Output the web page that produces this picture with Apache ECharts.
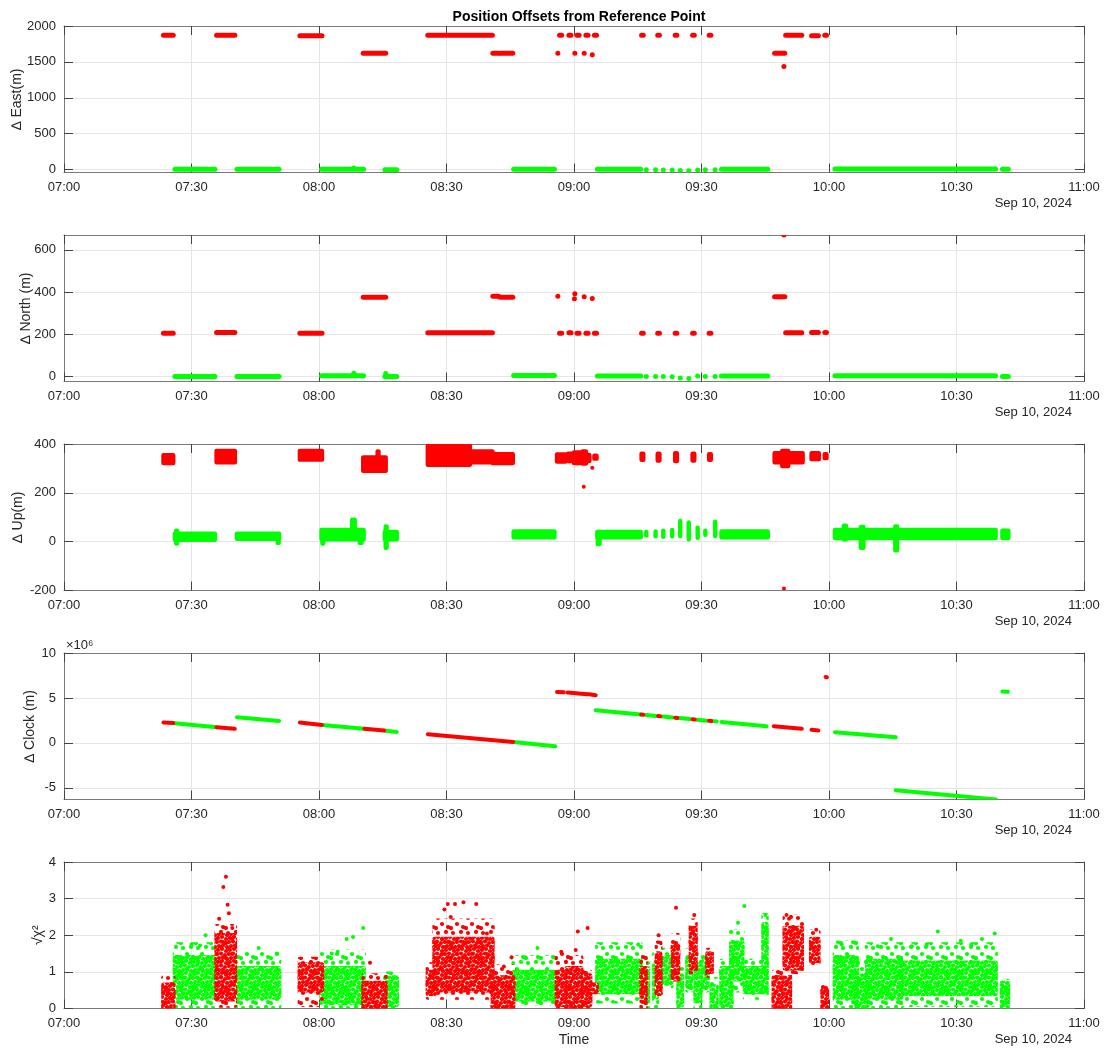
<!DOCTYPE html>
<html>
<head>
<meta charset="utf-8">
<script src="https://cdn.jsdelivr.net/npm/echarts@6/dist/echarts.min.js"></script>
<style>
  html, body { margin: 0; padding: 0; background: #fff; }
  #chart { width: 1104px; height: 1049px; }
</style>
</head>
<body>
<div id="chart"></div>
<script>
// all times are minutes after 07:00, Sep 10 2024
const timeTicks = [0, 30, 60, 90, 120, 150, 180, 210, 240];

// East offset: [start, end, value] (a dot when start == end)
const eastGood = [
  [26.1, 35.5, 5], [40.7, 50.6, 5], [60.6, 70.5, 5], [68.2, 68.2, 22], [75.5, 78.3, 0],
  [105.8, 115.4, 5], [125.5, 135.7, 5], [137.0, 137.0, 0], [139.2, 139.2, -2],
  [141.0, 141.0, -5], [143.1, 143.1, -5], [145.0, 145.0, -12], [147.0, 147.0, -15],
  [149.1, 149.1, -5], [150.9, 150.9, 0], [153.2, 153.2, 0], [154.7, 165.6, 5],
  [181.4, 219.2, 8], [220.8, 222.2, 5]
];
const eastBad = [
  [23.4, 25.7, 1870], [35.9, 40.2, 1870], [55.5, 60.7, 1865], [70.4, 75.7, 1620],
  [85.6, 100.8, 1870], [100.9, 102.2, 1620], [102.6, 105.6, 1620],
  [116.2, 116.2, 1620], [116.6, 117.1, 1870], [118.8, 119.3, 1870], [120.7, 121.2, 1870],
  [122.8, 123.3, 1870], [124.8, 125.3, 1870], [120.2, 120.2, 1620], [122.4, 122.4, 1620],
  [124.3, 124.3, 1600], [135.9, 136.3, 1870], [139.7, 140.1, 1870], [143.8, 144.2, 1870],
  [147.9, 148.3, 1870], [151.8, 152.2, 1870], [167.2, 169.6, 1620], [169.4, 169.4, 1435],
  [169.8, 173.6, 1870], [175.9, 177.5, 1865], [179.0, 179.4, 1870]
];

// North offset: [start, end, value]
const northGood = [
  [26.1, 35.5, 0], [40.7, 50.6, 0], [60.6, 70.5, 3], [68.2, 68.2, 15], [75.5, 78.3, 0],
  [75.7, 75.7, 14], [105.8, 115.4, 5], [125.5, 135.7, 2], [137.0, 137.0, 0],
  [139.2, 139.2, 0], [141.0, 141.0, 0], [143.1, 143.1, -2], [145.0, 145.0, -8],
  [147.0, 147.0, -10], [149.1, 149.1, 2], [150.9, 150.9, 0], [153.2, 153.2, 0],
  [154.7, 165.6, 2], [181.4, 219.2, 3], [220.8, 222.2, 0]
];
const northBad = [
  [23.4, 25.7, 205], [35.9, 40.2, 208], [55.5, 60.7, 205], [70.4, 75.7, 375],
  [85.6, 100.8, 207], [100.9, 102.2, 380], [102.6, 105.6, 375],
  [116.2, 116.2, 380], [116.6, 117.1, 205], [118.8, 119.3, 207], [120.7, 121.2, 205],
  [122.8, 123.3, 205], [124.8, 125.3, 205], [120.2, 120.2, 392], [120.1, 120.1, 368],
  [122.4, 122.4, 378], [124.3, 124.3, 369], [135.9, 136.3, 205], [139.7, 140.1, 205],
  [143.8, 144.2, 205], [147.9, 148.3, 205], [151.8, 152.2, 205], [167.2, 169.6, 378],
  [169.4, 169.4, 670], [169.8, 173.6, 207], [175.9, 177.5, 208], [179.0, 179.4, 208]
];

// Up offset: [start, end, low, high]
const upGood = [
  [26.1, 35.5, 8, 33], [26.4, 26.6, -8, 45], [40.7, 50.6, 12, 33], [50.3, 50.5, -5, 30],
  [60.6, 70.5, 10, 48], [60.8, 61.0, -8, 30], [67.8, 68.4, 20, 90], [69.6, 70.0, -5, 40],
  [75.5, 78.3, 10, 40], [75.7, 75.9, -25, 62], [105.8, 115.4, 18, 42],
  [125.5, 135.7, 18, 40], [125.6, 126.0, -10, 40], [137.0, 137.0, 25, 40],
  [139.2, 139.2, 22, 42], [141.0, 141.0, 20, 45], [143.1, 143.1, 22, 48],
  [145.0, 145.0, 23, 85], [147.0, 147.0, 10, 79], [149.1, 149.1, 16, 57],
  [150.9, 150.9, 28, 45], [153.2, 153.2, 23, 82], [154.7, 165.6, 18, 42],
  [181.4, 219.2, 15, 48], [183.5, 184.0, 10, 65], [187.5, 188.1, -25, 60],
  [195.6, 196.0, -35, 62], [220.8, 222.2, 15, 45]
];
const upBad = [
  [23.4, 25.7, 322, 354], [35.9, 40.2, 325, 372], [55.5, 60.7, 336, 372],
  [70.4, 75.7, 290, 345], [73.8, 74.0, 300, 370], [85.6, 95.5, 315, 392],
  [95.5, 100.8, 325, 370], [100.9, 105.6, 322, 358], [116.0, 118.0, 328, 357],
  [118.6, 119.4, 330, 360], [120.0, 121.4, 322, 365], [122.0, 122.8, 320, 370],
  [123.0, 123.6, 330, 355], [124.8, 125.3, 340, 352], [135.9, 136.3, 335, 360],
  [139.7, 140.1, 332, 360], [143.8, 144.2, 330, 362], [147.9, 148.3, 332, 360],
  [151.8, 152.2, 335, 358], [167.2, 173.8, 325, 362], [169.0, 170.4, 310, 372],
  [175.9, 177.6, 338, 362], [179.0, 179.4, 342, 358]
];
const upBadDots = [[122.3, 225], [124.3, 303], [169.4, -192]];

// Clock offset (m): [start, end, value at start, value at end]
const clockGood = [
  [26.1, 35.9, 2.19e6, 1.74e6], [40.7, 50.6, 2.85e6, 2.44e6], [60.7, 70.7, 2.0e6, 1.56e6],
  [75.3, 78.3, 1.37e6, 1.22e6], [105.7, 115.6, 0.11e6, -0.37e6],
  [125.1, 135.7, 3.63e6, 3.16e6], [136.9, 139.3, 3.11e6, 3.0e6], [140.8, 143.2, 2.94e6, 2.83e6],
  [144.6, 147.3, 2.77e6, 2.65e6], [148.9, 151.3, 2.58e6, 2.47e6], [152.6, 153.6, 2.42e6, 2.37e6],
  [154.7, 165.3, 2.32e6, 1.85e6], [181.4, 195.7, 1.19e6, 0.63e6],
  [195.7, 219.3, -5.26e6, -6.3e6], [220.8, 222.1, 5.72e6, 5.68e6]
];
const clockBad = [
  [23.4, 25.7, 2.28e6, 2.2e6], [35.9, 40.2, 1.74e6, 1.56e6], [55.5, 60.7, 2.26e6, 2.0e6],
  [70.7, 75.3, 1.56e6, 1.37e6], [85.6, 105.7, 0.96e6, 0.11e6],
  [116.0, 117.6, 5.67e6, 5.62e6], [118.5, 120.6, 5.6e6, 5.52e6], [121.0, 123.2, 5.5e6, 5.42e6],
  [123.6, 125.1, 5.4e6, 5.3e6], [135.8, 136.3, 3.16e6, 3.14e6], [139.8, 140.3, 2.98e6, 2.96e6],
  [143.8, 144.3, 2.8e6, 2.78e6], [147.9, 148.4, 2.62e6, 2.6e6], [151.8, 152.3, 2.45e6, 2.43e6],
  [167.0, 173.6, 1.85e6, 1.56e6], [175.9, 177.5, 1.45e6, 1.38e6], [179.2, 179.5, 7.33e6, 7.3e6]
];

// sqrt(chi^2): [start, end, low, high, dense low, dense high]
const chiGood = [
  [26.1, 35.5, 0.05, 1.75, 0.3, 1.4], [40.7, 50.6, 0.05, 1.5, 0.3, 1.1],
  [60.6, 70.5, 0.0, 1.55, 0.15, 1.1], [75.6, 78.3, 0.0, 0.95, 0.1, 0.85],
  [105.8, 115.5, 0.15, 1.4, 0.25, 1.0], [125.5, 135.7, 0.2, 1.75, 0.45, 1.3],
  [136.8, 137.4, 0.0, 1.4, 0.2, 1.1], [138.9, 139.5, 0.0, 1.5, 0.3, 1.2],
  [140.8, 142.9, 0.6, 1.6, 0.7, 1.4], [144.6, 145.4, 0.0, 1.1, 0.1, 0.9],
  [146.7, 147.5, 0.5, 1.6, 0.6, 1.4], [148.6, 149.7, 0.0, 1.5, 0.2, 1.2],
  [150.5, 151.4, 0.5, 1.4, 0.6, 1.3], [152.4, 153.5, 0.0, 0.8, 0.0, 0.6],
  [154.7, 157.0, 0.0, 1.3, 0.1, 1.1], [157.0, 159.6, 0.5, 2.1, 0.8, 1.8],
  [160.2, 165.3, 0.3, 1.3, 0.45, 1.1], [164.6, 165.3, 0.8, 2.55, 1.0, 2.3],
  [181.4, 186.5, 0.0, 1.8, 0.3, 1.4], [186.5, 189.0, 0.0, 1.3, 0.0, 0.9],
  [189.0, 197.0, 0.0, 1.75, 0.3, 1.3], [197.0, 219.2, 0.1, 1.75, 0.4, 1.25],
  [220.7, 222.1, 0.0, 0.75, 0.1, 0.7]
];
const chiGoodDots = [
  [33.3, 2.0], [30.0, 1.75], [32.0, 1.72], [45.8, 1.65], [50.1, 1.5], [64.4, 1.55],
  [63.0, 1.5], [66.5, 1.9], [68.0, 1.95], [70.4, 2.2], [111.4, 1.65], [108.5, 1.4],
  [135.1, 1.75], [158.6, 2.34], [160.1, 2.8], [165.0, 2.55], [183.0, 1.75], [186.0, 1.8],
  [191.5, 1.7], [194.6, 1.9], [199.5, 1.7], [203.0, 1.75], [205.6, 2.1], [211.0, 1.85],
  [213.5, 1.75], [216.0, 1.9], [219.0, 2.05]
];
const chiBad = [
  [23.4, 25.7, 0.0, 0.85, 0.05, 0.65], [35.9, 40.2, 0.08, 2.25, 0.25, 2.0],
  [55.5, 60.7, 0.1, 1.35, 0.5, 1.2], [70.5, 75.6, 0.0, 0.9, 0.0, 0.7],
  [85.6, 87.2, 0.3, 1.2, 0.4, 1.0], [87.2, 100.8, 0.3, 2.4, 0.5, 1.9],
  [100.9, 105.7, 0.0, 1.15, 0.05, 0.85], [116.0, 117.8, 0.0, 1.5, 0.1, 1.0],
  [118.3, 121.7, 0.0, 1.4, 0.05, 1.1], [122.1, 123.8, 0.0, 1.0, 0.1, 0.9],
  [124.2, 125.3, 0.4, 0.7, 0.45, 0.65], [135.9, 136.8, 0.0, 1.4, 0.2, 1.1],
  [139.5, 140.3, 0.3, 1.8, 0.4, 1.5], [143.3, 144.5, 0.7, 2.0, 0.8, 1.7],
  [147.5, 148.6, 1.0, 2.4, 1.1, 2.2], [151.4, 152.4, 0.9, 1.6, 1.0, 1.5],
  [167.0, 170.8, 0.0, 1.0, 0.0, 0.85], [169.6, 173.6, 1.0, 2.5, 1.1, 2.2],
  [175.8, 177.5, 1.2, 2.1, 1.3, 1.9], [178.5, 179.5, 0.0, 0.65, 0.0, 0.5]
];
const chiBadDots = [
  [38.1, 3.6], [37.5, 3.32], [38.5, 2.83], [38.8, 2.6], [36.5, 2.45], [39.6, 2.2],
  [72.0, 1.25], [89.5, 2.7], [90.3, 2.85], [92.0, 2.85], [94.0, 2.9], [97.0, 2.85],
  [91.0, 2.5], [99.5, 2.05], [105.3, 1.4], [103.5, 1.15], [117.0, 1.55], [120.9, 2.1],
  [120.4, 1.6], [123.2, 2.2], [139.9, 2.0], [144.0, 2.75], [148.3, 2.55], [170.0, 2.55],
  [170.6, 2.45], [177.0, 2.15]
];

const RED = '#ff0000';
const GREEN = '#00ff00';
const tops = [26, 235, 444, 653, 862];
const plotH = 146.5;

function clock(v) {
  const h = 7 + Math.floor(v / 60), m = Math.round(v % 60);
  return String(h).padStart(2, '0') + ':' + String(m).padStart(2, '0');
}

function toSeg(d) {
  if (d.length === 2) return [d[0], d[0], d[1], d[1]];
  if (d.length === 3) return [d[0], d[1], d[2], d[2]];
  return d;
}

// speckle textures that stand in for dense / sparse marker clouds
const denseSpots = [[2, 2], [6, 1], [10, 3], [1, 6], [5, 5.5], [9, 7], [3, 10], [7, 9.5], [11, 11]];
const sparseSpots = [[3, 3], [11, 2], [7, 9], [13, 12], [1, 13]];
function speckle(color, spots, size) {
  const c = document.createElement('canvas');
  c.width = c.height = size;
  const g = c.getContext('2d');
  g.fillStyle = color;
  spots.forEach(([x, y]) => {
    for (const dx of [-size, 0, size]) for (const dy of [-size, 0, size]) {
      g.beginPath(); g.arc(x + dx, y + dy, 2.1, 0, Math.PI * 2); g.fill();
    }
  });
  return { image: c, repeat: 'repeat' };
}
const texture = {
  [RED]: { dense: speckle(RED, denseSpots, 12), sparse: speckle(RED, sparseSpots, 15) },
  [GREEN]: { dense: speckle(GREEN, denseSpots, 12), sparse: speckle(GREEN, sparseSpots, 15) }
};

// thick strokes for level / sloped runs of points
function strokeSeries(i, data, color, width) {
  return {
    type: 'custom', xAxisIndex: i * 2, yAxisIndex: i * 2, clip: true,
    z: color === RED ? 4 : 3,
    encode: { x: [0, 1], y: [2, 3] },
    data: data.map(toSeg),
    renderItem(params, api) {
      const a = api.coord([api.value(0), api.value(2)]);
      const b = api.coord([api.value(1), api.value(3)]);
      if (Math.abs(b[0] - a[0]) < 0.5 && Math.abs(b[1] - a[1]) < 0.5) {
        return { type: 'circle', shape: { cx: a[0], cy: a[1], r: width / 2 }, style: { fill: color } };
      }
      return {
        type: 'line',
        shape: { x1: a[0], y1: a[1], x2: b[0], y2: b[1] },
        style: { stroke: color, lineWidth: width, lineCap: 'round' }
      };
    }
  };
}

// point clouds: solid band, or sparse outer range plus dense core
function cloudSeries(i, data, color) {
  return {
    type: 'custom', xAxisIndex: i * 2, yAxisIndex: i * 2, clip: true,
    z: color === RED ? 4 : 3,
    encode: { x: [0, 1], y: [2, 3] },
    data: data,
    renderItem(params, api) {
      const pad = 2.2;
      const box = (lo, hi, fill) => {
        const p = api.coord([api.value(0), api.value(hi)]);
        const q = api.coord([api.value(1), api.value(lo)]);
        return {
          type: 'rect',
          shape: { x: p[0] - pad, y: p[1] - pad, width: q[0] - p[0] + 2 * pad, height: q[1] - p[1] + 2 * pad, r: pad },
          style: { fill: fill }
        };
      };
      const kids = [];
      if (api.value(4) != null && !isNaN(api.value(4))) {
        kids.push(box(2, 3, texture[color].sparse));
        kids.push(box(4, 5, texture[color].dense));
      } else {
        kids.push(box(2, 3, color));
      }
      return { type: 'group', children: kids };
    }
  };
}

const yDefs = [
  { name: '\u2206 East(m)', min: -40, max: 2000, ticks: [0, 500, 1000, 1500, 2000], gap: 40 },
  { name: '\u2206 North (m)', min: -24, max: 670, ticks: [0, 200, 400, 600], gap: 31 },
  { name: '\u2206 Up(m)', min: -200, max: 400, ticks: [-200, 0, 200, 400], gap: 39 },
  { name: '\u2206 Clock (m)', min: -6.3e6, max: 10e6, ticks: [-5e6, 0, 5e6, 10e6], gap: 27, scale: 1e6 },
  { name: '\u221a\u03c7\u00b2', min: 0, max: 4, ticks: [0, 1, 2, 3, 4], gap: 19 }
];

const axisGray = '#7a7a7a';
const textDark = '#262626';
const gridGray = '#e6e6e6';

const grid = [], xAxis = [], yAxis = [];
tops.forEach((t, i) => {
  grid.push({ left: 64, right: 20, top: t, height: plotH, outerBoundsMode: 'none', containLabel: false });
  const xBase = {
    gridIndex: i, type: 'value', min: 0, max: 240, interval: 30,
    axisLine: { show: true, onZero: false, lineStyle: { color: axisGray, width: 1 } },
    axisTick: { show: true, inside: true, length: 9, lineStyle: { color: '#444' } }
  };
  xAxis.push(Object.assign({}, xBase, {
    position: 'bottom',
    axisLabel: { formatter: clock, color: textDark, fontSize: 13, margin: 8, fontFamily: 'Liberation Sans' },
    splitLine: { show: true, lineStyle: { color: gridGray } },
    name: i === 4 ? 'Time' : '',
    nameLocation: 'middle', nameGap: 25, nameMoveOverlap: false,
    nameTextStyle: { color: textDark, fontSize: 14, fontFamily: 'Liberation Sans' }
  }));
  xAxis.push(Object.assign({}, xBase, {
    position: 'top', axisLabel: { show: false }, splitLine: { show: false }
  }));
  const d = yDefs[i];
  const yBase = {
    gridIndex: i, type: 'value', min: d.min, max: d.max,
    axisLine: { show: true, onZero: false, lineStyle: { color: axisGray, width: 1 } },
    axisTick: { show: true, inside: true, length: 9, customValues: d.ticks, lineStyle: { color: '#444' } }
  };
  yAxis.push(Object.assign({}, yBase, {
    position: 'left',
    axisLabel: {
      customValues: d.ticks, color: textDark, fontSize: 13, margin: 8, fontFamily: 'Liberation Sans',
      formatter: v => String(d.scale ? Math.round(v / d.scale) : v)
    },
    splitLine: { show: true, lineStyle: { color: gridGray } },
    name: d.name, nameLocation: 'middle', nameGap: d.gap, nameRotate: 90, nameMoveOverlap: false,
    nameTextStyle: { color: textDark, fontSize: 14, fontFamily: 'Liberation Sans' }
  }));
  yAxis.push(Object.assign({}, yBase, {
    position: 'right', axisLabel: { show: false }, splitLine: { show: false }
  }));
});

const series = [
  strokeSeries(0, eastGood, GREEN, 5), strokeSeries(0, eastBad, RED, 5),
  strokeSeries(1, northGood, GREEN, 5), strokeSeries(1, northBad, RED, 5),
  cloudSeries(2, upGood, GREEN), cloudSeries(2, upBad, RED), strokeSeries(2, upBadDots, RED, 4),
  strokeSeries(3, clockGood, GREEN, 4), strokeSeries(3, clockBad, RED, 4),
  cloudSeries(4, chiGood, GREEN), strokeSeries(4, chiGoodDots, GREEN, 4),
  cloudSeries(4, chiBad, RED), strokeSeries(4, chiBadDots, RED, 4)
];

const dateLabels = tops.map(t => ({
  type: 'text', right: 32, top: t + plotH + 24,
  style: { text: 'Sep 10, 2024', fill: textDark, fontSize: 13, fontFamily: 'Liberation Sans' }
}));

const chart = echarts.init(document.getElementById('chart'));
chart.setOption({
  animation: false,
  backgroundColor: '#fff',
  title: {
    text: 'Position Offsets from Reference Point', left: 574, top: 5, textAlign: 'center',
    textStyle: { fontSize: 14, fontWeight: 'bold', color: '#000', fontFamily: 'Liberation Sans' }
  },
  grid, xAxis, yAxis, series,
  graphic: dateLabels.concat([{
    type: 'text', left: 66, top: tops[3] - 14,
    style: { text: '\u00d710\u2076', fill: textDark, fontSize: 13, fontFamily: 'Liberation Sans' }
  }])
});
</script>
</body>
</html>
